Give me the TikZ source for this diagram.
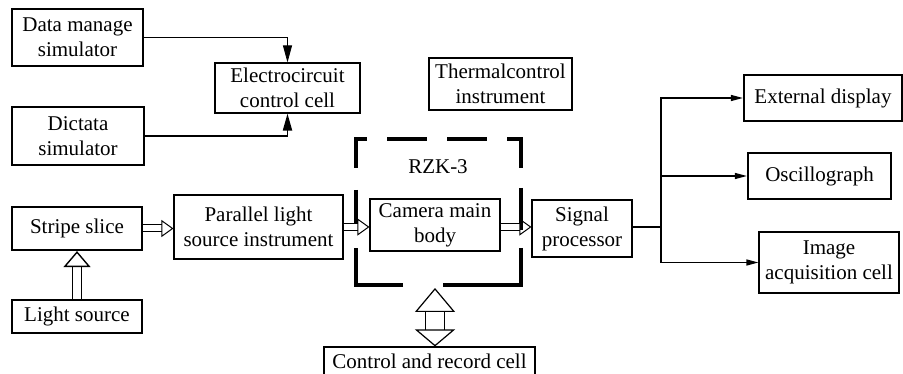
\documentclass[tikz,border=0pt]{standalone}
\usepackage{fontspec}
\setmainfont{Liberation Serif}
\usepackage{tikz}
\usetikzlibrary{arrows.meta}

\begin{document}
\begin{tikzpicture}[
  x=1pt, y=-1pt,
  font=\fontsize{21}{25}\selectfont,
  box/.style={
    draw,
    line width=1.1pt,
    align=center,
    inner sep=0pt
  },
  boldbox/.style={box, line width=2.2pt},
  frame/.style={line width=4.5pt},
  feed/.style={-{Triangle[length=17pt, width=9pt]}},
  branch/.style={line width=1.3pt, -{Triangle[length=12pt, width=6pt]}},
  hollow/.style={double, double distance=6pt, line width=1pt,
    -{Triangle[open, length=12pt, width=17pt, line width=1pt]}},
  widehollow/.style={double, double distance=8pt, line width=1.4pt,
    -{Triangle[open, length=16pt, width=27pt, line width=1.4pt]}},
  bighollow/.style={double, double distance=18pt, line width=1.2pt,
    {Triangle[open, length=24pt, width=40pt, line width=1.2pt]}-{Triangle[open, length=17pt, width=40pt, line width=1.2pt]}}
]
\useasboundingbox (0,0) rectangle (903,374);

% simulators and control cells
\node[boldbox, minimum width=131, minimum height=57] (dms) at (77.5,37.5) {Data manage\\simulator};
\node[boldbox, minimum width=132, minimum height=58] (dict) at (78,136) {Dictata\\simulator};
\node[box, minimum width=145, minimum height=50] (elec) at (287.5,88) {Electrocircuit\\control cell};
\node[box, minimum width=143, minimum height=52] (thermal) at (500.5,84) {Thermalcontrol\\instrument};

% optical path
\node[boldbox, minimum width=130, minimum height=43] (stripe) at (77,228.5) {Stripe slice};
\node[boldbox, minimum width=130, minimum height=33] (light) at (77,316.5) {Light source};
\node[box, minimum width=169, minimum height=64] (parallel) at (258.5,227) {Parallel light\\source instrument};
\node[box, minimum width=130, minimum height=52] (camera) at (435,225) {Camera main\\body};
\node[box, minimum width=100, minimum height=57] (signal) at (582,228.5) {Signal\\processor};
\node[box, minimum width=211, minimum height=28] (control) at (429.5,361) {Control and record cell};

% outputs
\node[boldbox, minimum width=158, minimum height=46] (extd) at (823,98) {External display};
\node[boldbox, minimum width=143, minimum height=46] (osc) at (819.5,176) {Oscillograph};
\node[box, minimum width=140, minimum height=61] (imgacq) at (829,262.5) {Image\\acquisition cell};

% RZK-3 frame
\node (rzklabel) at (438,167) {RZK-3};
\draw[frame] (356,168) -- (356,139) -- (367,139);
\draw[frame] (387,139) -- (427,139);
\draw[frame] (447,139) -- (487,139);
\draw[frame] (507,139) -- (521,139) -- (521,168);
\draw[frame] (521,188) -- (521,230);
\draw[frame] (521,248) -- (521,285) -- (443,285);
\draw[frame] (403,285) -- (356,285) -- (356,248);
\draw[frame] (356,190) -- (356,230);
\coordinate (rzk) at (435,288);

% connectors
\draw[feed, line width=0.8pt] (dms.east) -| (elec.north);
\draw[feed, line width=1.8pt] (dict.east) -| (elec.south);
\draw[widehollow] (light.north) -- (stripe.south);
\draw[hollow] (stripe.east) -- (stripe.east -| parallel.west);
\draw[hollow] (parallel.east) -- (parallel.east -| camera.west);
\draw[hollow] (camera.east) ++(0,2) -- (signal.west |- 0,227);
\draw[bighollow] (rzk) -- (rzk |- control.north);

\coordinate (split) at (661,227);
\draw[line width=1.8pt] (signal.east |- split) -- (split);
\draw[branch] (split) |- (extd.west);
\draw[branch] (split) |- (osc.west);
\draw[branch] (split) |- (imgacq.west);
\end{tikzpicture}
\end{document}
